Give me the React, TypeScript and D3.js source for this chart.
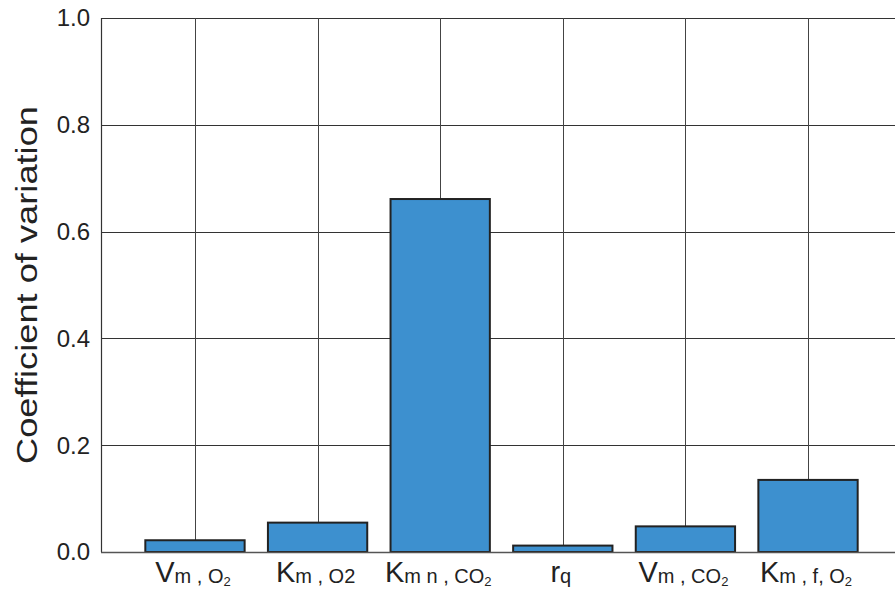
import React from "react";
import * as d3 from "d3";

const categories = ["Vm,O2", "Km,O2", "Kmn,CO2", "rq", "Vm,CO2", "Km,f,O2"];
const labelMain = ["V", "K", "K", "r", "V", "K"];
const labelSub = ["m , O", "m , O2", "m n , CO", "q", "m , CO", "m , f, O"];
const labelSubSub = ["2", "", "2", "", "2", "2"];
const values = [0.022, 0.055, 0.661, 0.012, 0.048, 0.135];
const yTicks = [0, 0.2, 0.4, 0.6, 0.8, 1.0];

const W = 895;
const H = 591;
const left = 101;
const rightEdge = 902;
const top = 18;
const bottom = 552;
const font = "'Liberation Sans', Arial, Helvetica, sans-serif";

export default function App() {
  const x = d3
    .scaleBand<string>()
    .domain(categories)
    .range([left, rightEdge])
    .paddingInner(0.19)
    .paddingOuter(0.3615);
  const y = d3.scaleLinear().domain([0, 1]).range([bottom, top]);

  return (
    <svg
      width={W}
      height={H}
      style={{ position: "absolute", left: 0, top: 0, background: "#fff" }}
    >
      {yTicks.map((t) =>
        t === 0 ? null : (
          <line
            key={"h" + t}
            x1={left}
            x2={W}
            y1={Math.round(y(t)) + 0.5}
            y2={Math.round(y(t)) + 0.5}
            stroke="#333"
            strokeWidth={1}
          />
        )
      )}
      {categories.map((c) => {
        const cx = Math.round((x(c) as number) + x.bandwidth() / 2) + 0.5;
        return (
          <line
            key={"v" + c}
            x1={cx}
            x2={cx}
            y1={top}
            y2={bottom}
            stroke="#444"
            strokeWidth={1}
          />
        );
      })}
      <line x1={left + 0.5} x2={left + 0.5} y1={top} y2={bottom} stroke="#333" strokeWidth={1.2} />
      {categories.map((c, i) => (
        <rect
          key={"b" + c}
          x={x(c) as number}
          y={y(values[i])}
          width={x.bandwidth()}
          height={bottom - y(values[i])}
          fill="#3d90cf"
          stroke="#222"
          strokeWidth={2}
        />
      ))}
      <line x1={left} x2={W} y1={bottom + 0.5} y2={bottom + 0.5} stroke="#555" strokeWidth={1.5} />
      {yTicks.map((t) => (
        <text
          key={"yl" + t}
          x={90}
          y={y(t)}
          dy="0.35em"
          textAnchor="end"
          fontFamily={font}
          fontSize={24}
          fill="#222"
        >
          {t.toFixed(1)}
        </text>
      ))}
      <text
        transform={`translate(37,${(top + bottom) / 2}) rotate(-90)`}
        textAnchor="middle"
        fontFamily={font}
        fontSize={29}
        fill="#222"
        textLength={358}
        lengthAdjust="spacingAndGlyphs"
      >
        Coefficient of variation
      </text>
      {categories.map((c, i) => {
        const cx = (x(c) as number) + x.bandwidth() / 2 - 2;
        return (
          <text
            key={"xl" + c}
            x={cx}
            y={582}
            textAnchor="middle"
            fontFamily={font}
            fill="#222"
          >
            <tspan fontSize={29}>{labelMain[i]}</tspan>
            <tspan fontSize={20} dy={1}>
              {labelSub[i]}
            </tspan>
            {labelSubSub[i] ? (
              <tspan fontSize={13} dy={3}>
                {labelSubSub[i]}
              </tspan>
            ) : null}
          </text>
        );
      })}
    </svg>
  );
}
